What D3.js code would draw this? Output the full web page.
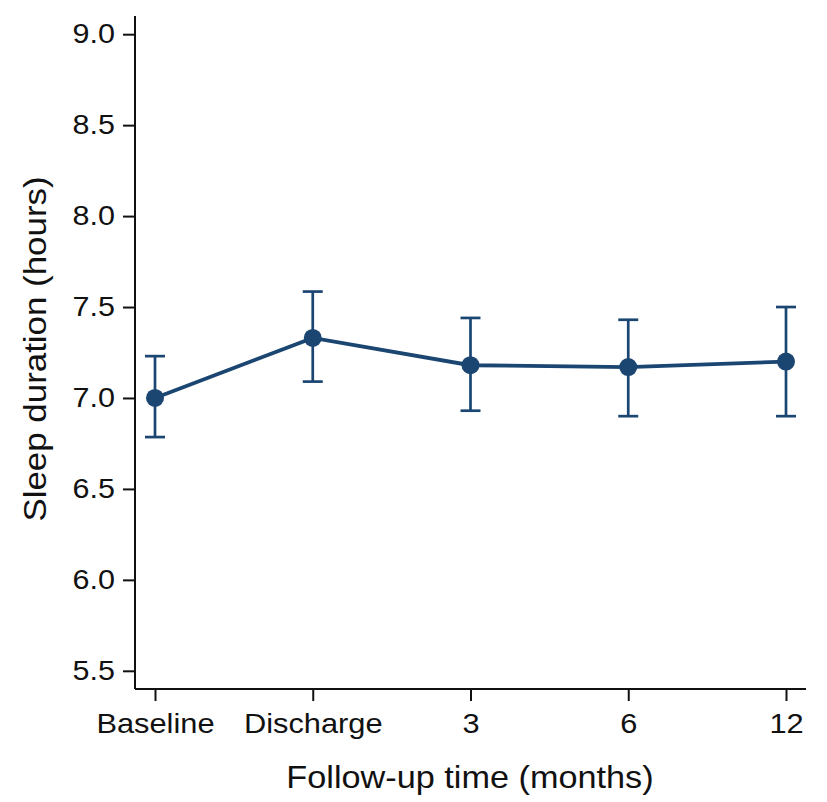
<!DOCTYPE html>
<html>
<head>
<meta charset="utf-8">
<script src="https://cdn.jsdelivr.net/npm/d3@7"></script>
<style>
  body { margin: 0; background: #fff; }
  svg { display: block; font-family: Arial, "Liberation Sans", sans-serif; }
</style>
</head>
<body>
<div id="chart"></div>
<script>
// data
var categories = ['Baseline', 'Discharge', '3', '6', '12'];
var means = [7.00, 7.33, 7.18, 7.17, 7.20];
var lower = [6.785, 7.09, 6.93, 6.90, 6.90];
var upper = [7.23, 7.585, 7.44, 7.43, 7.50];
var yTicks = [5.5, 6.0, 6.5, 7.0, 7.5, 8.0, 8.5, 9.0];

var width = 827, height = 802;
var navy = '#1b4672';
var ink = '#111';

var svg = d3.select('#chart').append('svg')
  .attr('width', width)
  .attr('height', height);

// the original font runs a little wider than Arial, so stretch glyphs
function stretch(sel, factor) {
  sel.each(function() {
    var len = this.getComputedTextLength();
    d3.select(this)
      .attr('textLength', len * factor)
      .attr('lengthAdjust', 'spacingAndGlyphs');
  });
}

var x = d3.scalePoint().domain(categories).range([155, 786]);
var y = d3.scaleLinear().domain([5.4, 9.1]).range([689, 16]);

// y axis
var yAxis = svg.append('g')
  .attr('transform', 'translate(135,0)')
  .call(d3.axisLeft(y).tickValues(yTicks).tickFormat(d3.format('.1f')).tickSize(12).tickPadding(8));
yAxis.select('.domain').attr('d', 'M0,' + y(9.1) + 'V' + 689).attr('stroke', ink).attr('stroke-width', 2);
yAxis.selectAll('.tick line').attr('stroke', ink).attr('stroke-width', 2);
yAxis.selectAll('.tick text').attr('font-size', 27).attr('fill', ink).call(stretch, 1.13);

// x axis
var xAxis = svg.append('g')
  .attr('transform', 'translate(0,689)')
  .call(d3.axisBottom(x).tickSize(12).tickPadding(12));
xAxis.select('.domain').attr('d', 'M135,0H806').attr('stroke', ink).attr('stroke-width', 2);
xAxis.selectAll('.tick line').attr('stroke', ink).attr('stroke-width', 2);
xAxis.selectAll('.tick text').attr('font-size', 27.5).attr('fill', ink).call(stretch, 1.12);

// axis titles
svg.append('text')
  .attr('x', 470).attr('y', 788)
  .attr('text-anchor', 'middle')
  .attr('font-size', 32).attr('fill', ink)
  .text('Follow-up time (months)')
  .call(stretch, 1.07);

svg.append('text')
  .attr('transform', 'translate(46,349) rotate(-90)')
  .attr('text-anchor', 'middle')
  .attr('font-size', 32).attr('fill', ink)
  .text('Sleep duration (hours)')
  .call(stretch, 1.09);

// error bars
var bars = svg.append('g').attr('stroke', navy).attr('stroke-width', 2.7);
categories.forEach(function(c, i) {
  var cx = x(c);
  bars.append('line').attr('x1', cx).attr('x2', cx).attr('y1', y(lower[i])).attr('y2', y(upper[i]));
  bars.append('line').attr('x1', cx - 10).attr('x2', cx + 10).attr('y1', y(upper[i])).attr('y2', y(upper[i]));
  bars.append('line').attr('x1', cx - 10).attr('x2', cx + 10).attr('y1', y(lower[i])).attr('y2', y(lower[i]));
});

// mean line
var line = d3.line()
  .x(function(d, i) { return x(categories[i]); })
  .y(function(d) { return y(d); });

svg.append('path')
  .datum(means)
  .attr('d', line)
  .attr('fill', 'none')
  .attr('stroke', navy)
  .attr('stroke-width', 3.8);

svg.selectAll('circle.pt')
  .data(means).enter()
  .append('circle')
  .attr('class', 'pt')
  .attr('cx', function(d, i) { return x(categories[i]); })
  .attr('cy', function(d) { return y(d); })
  .attr('r', 9)
  .attr('fill', navy);
</script>
</body>
</html>
